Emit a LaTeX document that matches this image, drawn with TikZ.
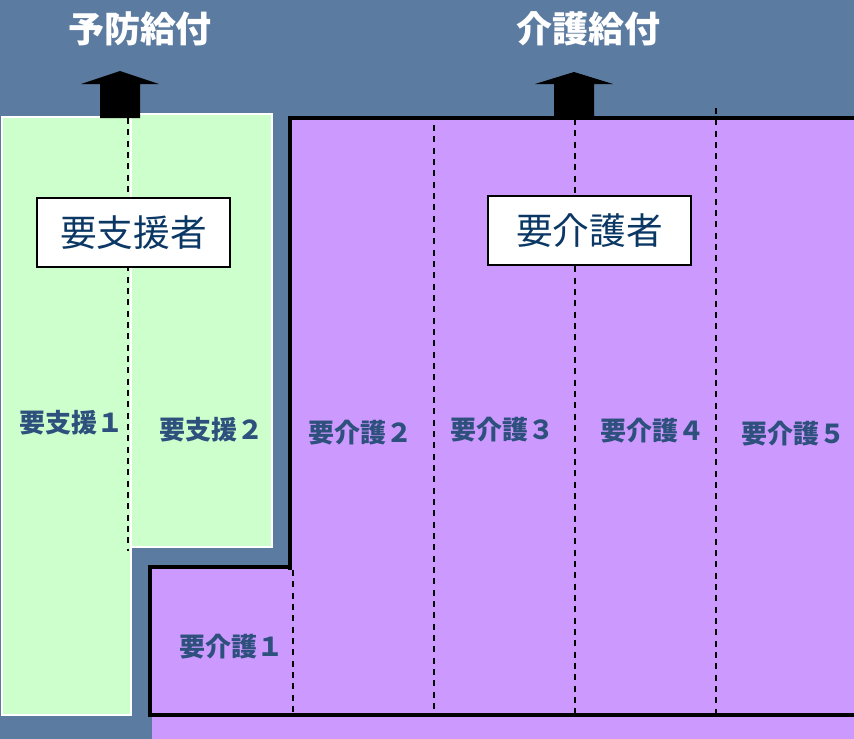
\documentclass[tikz,border=0pt]{standalone}
\usepackage{fontspec}
\setmainfont{Noto Sans CJK JP}
\definecolor{bgblue}{RGB}{91,123,160}
\definecolor{greenfill}{RGB}{204,255,204}
\definecolor{purpfill}{RGB}{204,153,255}
\definecolor{labelblue}{RGB}{45,80,125}
\definecolor{boxtext}{RGB}{10,55,100}
\tikzset{
  vdash/.style={draw=black, line width=1.5pt, dash pattern=on 4.5pt off 4pt},
  titletext/.style={text=white, font=\fontsize{27}{30}\selectfont\bfseries, inner sep=0pt},
  lvl/.style={text=labelblue, font=\fontsize{19.5}{22}\selectfont\bfseries, inner sep=0pt},
  groupbox/.style={draw=black, line width=1.5pt, fill=white, text=boxtext, font=\fontsize{27.5}{30}\selectfont, inner sep=0pt, minimum height=51.75pt},
  blockarrow/.style={fill=black},
}
\begin{document}
\begin{tikzpicture}[x=0.75pt,y=-0.75pt]
\useasboundingbox (0,0) rectangle (854,739);
\fill[bgblue] (0,0) rectangle (854,739);
% green (yoshien) area
\filldraw[fill=greenfill, draw=white, line width=1.1pt] (131,114) rectangle (272,547);
\filldraw[fill=greenfill, draw=white, line width=1.1pt] (2,117) rectangle (131,715);
\draw[vdash] (128,118) -- (128,551);
% purple (yokaigo) area
\fill[purpfill] (152,715) rectangle (856,741);
\fill[purpfill] (858,118) -- (290,118) -- (290,567) -- (150,567) -- (150,715) -- (858,715) -- cycle;
\draw[black, line width=2.3pt] (858,118) -- (290,118) -- (290,570);
\draw[black, line width=2.3pt] (292,567) -- (150,567) -- (150,715) -- (858,715);
\draw[vdash] (293,570) -- (293,712);
\draw[vdash] (434,125) -- (434,712);
\draw[vdash] (575,119) -- (575,714);
\draw[vdash] (716,108) -- (716,714);
% block arrows
\fill[blockarrow] (100,118) -- (100,84) -- (81,84) -- (120,71) -- (159,84) -- (140,84) -- (140,118) -- cycle;
\fill[blockarrow] (554,117) -- (554,84) -- (535,84) -- (574,72) -- (613,84) -- (594,84) -- (594,117) -- cycle;
% titles
\node[titletext] (t1) at (140,29) {予防給付};
\node[titletext] (t2) at (588,29) {介護給付};
% group boxes
\node[groupbox, minimum width=144.75pt] (g1) at (133.5,232.5) {要支援者};
\node[groupbox, minimum width=152.25pt] (g2) at (589.5,230.5) {要介護者};
% level labels
\node[lvl] (s1) at (71.5,423) {要支援１};
\node[lvl] (s2) at (211,430) {要支援２};
\node[lvl] (k1) at (231.5,647) {要介護１};
\node[lvl] (k2) at (360.5,433) {要介護２};
\node[lvl] (k3) at (502.5,430) {要介護３};
\node[lvl] (k4) at (652.5,431) {要介護４};
\node[lvl] (k5) at (793,434) {要介護５};
\end{tikzpicture}
\end{document}
